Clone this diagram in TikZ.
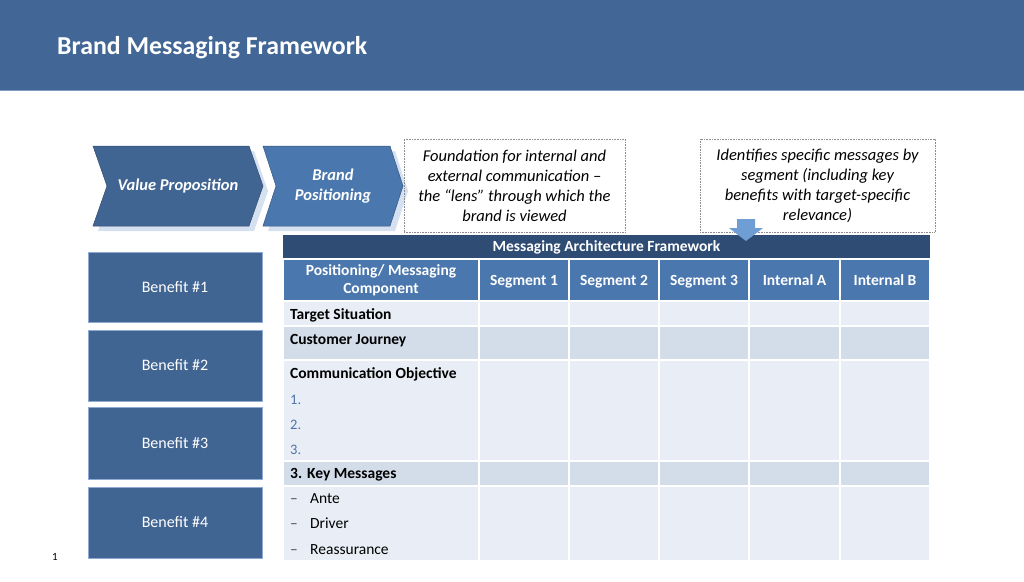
\documentclass[tikz,border=0pt]{standalone}
\usepackage{fontspec}
\setmainfont{Carlito}
\definecolor{band}{HTML}{426695}
\definecolor{bandline}{HTML}{7E9BC4}
\definecolor{chevA}{HTML}{416593}
\definecolor{chevB}{HTML}{4A77AE}
\definecolor{shadowc}{HTML}{D5E0F0}
\definecolor{navy}{HTML}{2F4D74}
\definecolor{hdr}{HTML}{4A77AE}
\definecolor{rowL}{HTML}{E9EEF6}
\definecolor{rowD}{HTML}{D3DDEA}
\definecolor{numblue}{HTML}{4F73A8}
\definecolor{arrowc}{HTML}{6E9ED3}
\definecolor{benbord}{HTML}{8FAAD3}
\definecolor{notegray}{HTML}{8C8C8C}
\begin{document}
\begin{tikzpicture}[x=1pt,y=-1pt,
  cell/.style={draw=white, line width=1.6pt},
  benefit/.style={draw=benbord, fill=chevA, line width=0.8pt, text=white,
    minimum width=174pt, font=\fontsize{16}{19}\selectfont},
  chevtxt/.style={text=white, align=center, inner sep=0,
    font=\bfseries\itshape\fontsize{16.5}{20}\selectfont},
  note/.style={draw=notegray, densely dotted, line width=0.6pt, align=center,
    font=\itshape\fontsize{16.5}{20}\selectfont},
  hdrtxt/.style={text=white, align=center, inner sep=0,
    font=\bfseries\fontsize{15.5}{18}\selectfont},
  segtxt/.style={hdrtxt, anchor=base},
  lbl/.style={anchor=base west, inner sep=0, font=\bfseries\fontsize{15.5}{18}\selectfont},
  num/.style={anchor=base west, inner sep=0, text=numblue, font=\fontsize{14.5}{18}\selectfont},
  item/.style={anchor=base west, inner sep=0, font=\fontsize{15.5}{18}\selectfont}
]
\useasboundingbox (0,0) rectangle (1024,581);
\fill[white] (0,0) rectangle (1024,581);

% header band
\fill[band] (0,0) rectangle (1024,90);
\draw[bandline, line width=1pt] (0,90.5) -- (1024,90.5);
\node[anchor=base west, inner sep=0, text=white, font=\bfseries\fontsize{25.8}{30}\selectfont] (title) at (57,54) {Brand Messaging Framework};

% chevrons with shadows
\fill[shadowc] (98,151) -- (254,151) -- (268,191) -- (254,231) -- (98,231) -- (112,191) -- cycle;
\fill[shadowc] (268,151) -- (395,151) -- (408,191) -- (395,231) -- (268,231) -- (281,191) -- cycle;
\filldraw[fill=chevA, draw=chevA!75!black, line width=0.5pt] (93,146) -- (249,146) -- (263,186) -- (249,226) -- (93,226) -- (107,186) -- cycle;
\filldraw[fill=chevB, draw=chevB!75!black, line width=0.5pt] (263,146) -- (390,146) -- (403,186) -- (390,226) -- (263,226) -- (276,186) -- cycle;
\node[chevtxt] (vp) at (178,186) {Value Proposition};
\node[chevtxt] (bp) at (333,186) {Brand\\Positioning};

% notes
\node[note, minimum width=221pt, minimum height=93pt, inner sep=0] (n1) at (514.5,185.5)
  {Foundation for internal and\\external communication –\\the “lens” through which the\\brand is viewed};
\node[note, minimum width=235pt, minimum height=93pt, inner sep=0] (n2) at (817.5,185.5)
  {Identifies specific messages by\\segment (including key\\benefits with target-specific\\relevance)};

% benefit boxes
\node[benefit, minimum height=70pt] (b1) at (175,287) {Benefit \#1};
\node[benefit, minimum height=71pt] (b2) at (175,365.5) {Benefit \#2};
\node[benefit, minimum height=72pt] (b3) at (175,443) {Benefit \#3};
\node[benefit, minimum height=71pt] (b4) at (175,522.5) {Benefit \#4};

% table title bar
\fill[navy] (283,235) rectangle (930,258);
\node[segtxt] (tt) at (606.5,251.5) {Messaging Architecture Framework};

% header row
\foreach \xa/\xb in {283/479,479/569,569/659,659/749,749/840,840/930}
  \draw[cell, fill=hdr] (\xa,259.5) rectangle (\xb,301);
% body rows
\foreach \ya/\yb/\c in {301/326/rowL,326/360/rowD,360/461/rowL,461/486/rowD,486/561/rowL}
  \foreach \xa/\xb in {283/479,479/569,569/659,659/749,749/840,840/930}
    \draw[cell, fill=\c] (\xa,\ya) rectangle (\xb,\yb);

% header texts
\node[hdrtxt] (h0) at (381,280) {Positioning/ Messaging\\Component};
\node[segtxt] (h1) at (524,285.5) {Segment 1};
\node[segtxt] (h2) at (614,285.5) {Segment 2};
\node[segtxt] (h3) at (704,285.5) {Segment 3};
\node[segtxt] (h4) at (794.5,285.5) {Internal A};
\node[segtxt] (h5) at (885,285.5) {Internal B};

% row labels
\node[lbl] (r1) at (290,319) {Target Situation};
\node[lbl] (r2) at (290,344) {Customer Journey};
\node[lbl] (r3) at (290,378) {Communication Objective};
\node[num] (o1) at (290,404) {1.};
\node[num] (o2) at (290,429) {2.};
\node[num] (o3) at (290,454) {3.};
\node[lbl] (r4n) at (290,478) {3.};
\node[lbl] (r4) at (307,478) {Key Messages};
\node[item, text=black!70] (d1) at (290,503) {–};
\node[item] (k1) at (310,503) {Ante};
\node[item, text=black!70] (d2) at (290,528) {–};
\node[item] (k2) at (310,528) {Driver};
\node[item, text=black!70] (d3) at (290,554) {–};
\node[item] (k3) at (310,554) {Reassurance};

% down arrow
\fill[arrowc] (737,219) -- (755,219) -- (755,228) -- (763,228) -- (746,241) -- (729,228) -- (737,228) -- cycle;

% page number
\node[inner sep=0, font=\fontsize{11}{13}\selectfont] (pg) at (55,557) {1};
\end{tikzpicture}
\end{document}
